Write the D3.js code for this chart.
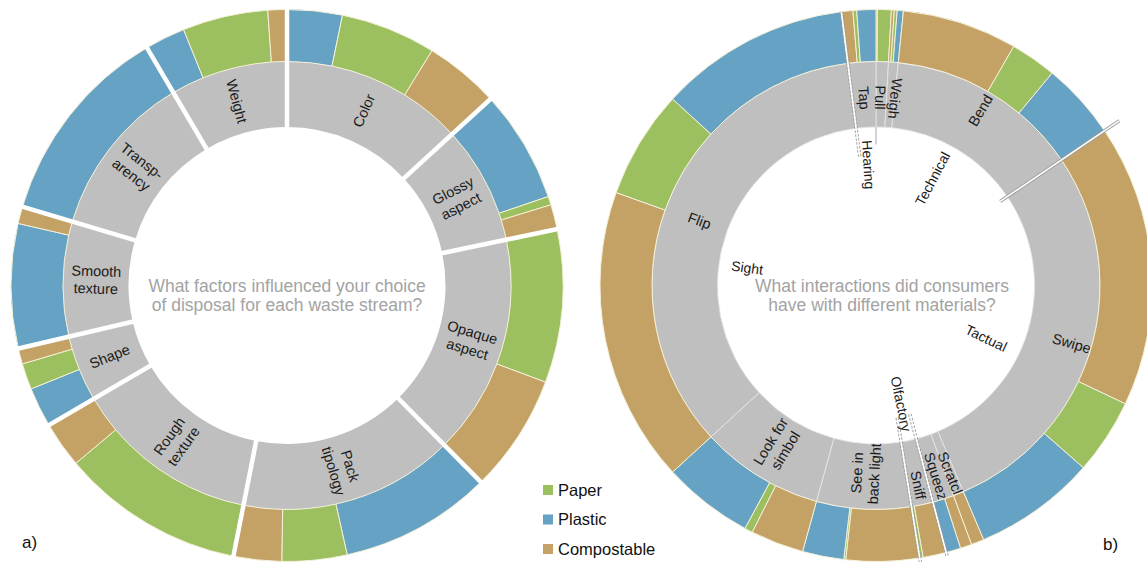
<!DOCTYPE html>
<html><head><meta charset="utf-8">
<script src="https://cdn.jsdelivr.net/npm/d3@7/dist/d3.min.js"></script>
<style>
html,body{margin:0;padding:0;background:#fff;}
svg{display:block;font-family:"Liberation Sans",Arial,Helvetica,sans-serif;}
</style></head><body>
<svg id="chart" width="1147" height="562"></svg>
<script>
// ---------- data: chart a) ----------
const factors = ["Color","Glossy aspect","Opaque aspect","Pack tipology","Rough texture","Shape","Smooth texture","Transparency","Weight"];
const factorLabels = ["Color","Glossy\naspect","Opaque\naspect","Pack\ntipology","Rough\ntexture","Shape","Smooth\ntexture","Transp-\narency","Weight"];
const factorPlastic = [11.6, 23.7, 0, 32.0, 0, 8.4, 26.2, 42.9, 8.5];
const factorPaper   = [20.1, 1.8, 32.3, 13.7, 38.7, 5.5, 0, 0, 18.0];
const factorCompost = [15.8, 5.2, 24.9, 10.1, 9.7, 3.3, 3.6, 0, 4.0];
const questionA = ["What factors influenced your choice","of disposal for each waste stream?"];

// ---------- data: chart b) ----------
const senses = ["Technical","Tactual","Olfactory","Sight","Hearing"];
const interactions = ["Pull","Weigh","Bend","Swipe","Scratch","Squeeze","Sniff","See in back light","Look for simbol","Flip","Tap"];
const interactionLabels = ["Pull","Weigh","Bend","Swipe","Scratch","Squeeze","Sniff","See in\nback light","Look for\nsimbol","Flip","Tap"];
const interactionSense = ["Technical","Technical","Technical","Tactual","Tactual","Tactual","Olfactory","Sight","Sight","Sight","Hearing"];
const interCompost = [0.3, 0.6, 24.2, 59.4, 2.7, 2.4, 4.9, 15.4, 11.2, 62.1, 2.4];
const interPaper   = [2.9, 0.6, 9.7, 15.9, 0, 0, 0.7, 0.4, 1.7, 22.8, 0.8];
const interPlastic = [0, 1.3, 16.2, 25.7, 0, 3.1, 0, 8.7, 19.1, 40.2, 4.0];
const questionB = ["What interactions did consumers","have with different materials?"];

const materials = ["Paper","Plastic","Compostable"];
const panelTags = ["a)","b)"];

// ---------- drawing ----------
const svg = d3.select("#chart");
const color = d3.scaleOrdinal().domain(materials).range(["#9cbf60","#65a2c4","#c4a266"]);
const GRAY = "#bfbfbf", CREAM = "#f4f0d8";
const R0 = 158.5, R1 = 224, R2 = 276;
const arcIn = d3.arc().innerRadius(R0).outerRadius(R1);
const arcOut = d3.arc().innerRadius(R1).outerRadius(R2);
const pie = d3.pie().sort(null).value(d => d.v).startAngle(0).endAngle(2 * Math.PI);
const deg = r => r * 180 / Math.PI;
const pt = (a, r) => [r * Math.sin(a), -r * Math.cos(a)];

function radialText(g, aDeg, r, lines, size, shift) {
  const flip = aDeg >= 180 || aDeg < 8;
  const t = g.append("text")
    .attr("transform", `rotate(${aDeg - 90}) translate(${r},0) rotate(${flip ? 180 : 0})`)
    .attr("text-anchor", "middle").attr("font-size", size).attr("fill", "#1a1a1a");
  const lh = size * 1.2;
  lines.forEach((ln, i) => {
    t.append("tspan").attr("x", shift || 0).attr("y", (i - (lines.length - 1) / 2) * lh)
      .attr("dy", "0.35em").text(ln);
  });
}
function centerText(g, lines, x) {
  g.append("g").selectAll("text").data(lines).join("text")
    .attr("x", x).attr("y", (d, i) => 6.5 + i * 19)
    .attr("text-anchor", "middle").attr("font-size", 17.5).attr("fill", "#a3a3a3").text(d => d);
}

// ===== chart a) =====
const gA = svg.append("g").attr("transform", "translate(287,285.5)");
const totA = factors.map((f, i) => ({ name: f, label: factorLabels[i], v: factorPlastic[i] + factorPaper[i] + factorCompost[i] }));
const inA = pie(totA);
const outA = pie(factors.flatMap((f, i) =>
  [["Plastic", factorPlastic[i]], ["Paper", factorPaper[i]], ["Compostable", factorCompost[i]]]
    .filter(d => d[1] > 0).map(([m, v]) => ({ f, m, v }))));
gA.append("g").selectAll("path").data(inA).join("path").attr("d", arcIn).attr("fill", GRAY);
gA.append("g").selectAll("path").data(outA).join("path").attr("d", arcOut)
  .attr("fill", d => color(d.data.m)).attr("stroke", CREAM).attr("stroke-width", 1);
gA.append("g").selectAll("line").data(inA).join("line")
  .attr("x1", d => pt(d.startAngle, R0 - 3)[0]).attr("y1", d => pt(d.startAngle, R0 - 3)[1])
  .attr("x2", d => pt(d.startAngle, R2 + 3)[0]).attr("y2", d => pt(d.startAngle, R2 + 3)[1])
  .attr("stroke", "#fff").attr("stroke-width", 4.5);
const labA = gA.append("g");
inA.forEach(d => radialText(labA, deg((d.startAngle + d.endAngle) / 2), 191, d.data.label.split("\n"), 14.5, 0));
centerText(gA, questionA, 0);

// ===== chart b) =====
const gB = svg.append("g").attr("transform", "translate(876,285.5)");
const leafB = interactions.map((n, i) => ({ name: n, label: interactionLabels[i], sense: interactionSense[i],
  v: interCompost[i] + interPaper[i] + interPlastic[i] }));
const inB = pie(leafB);
const senseArcs = pie(senses.map(s => ({ name: s, v: d3.sum(leafB.filter(d => d.sense === s), d => d.v) })));
const outB = pie(interactions.flatMap((n, i) =>
  [["Compostable", interCompost[i]], ["Paper", interPaper[i]], ["Plastic", interPlastic[i]]]
    .filter(d => d[1] > 0).map(([m, v]) => ({ n, m, v }))));
gB.append("g").selectAll("path").data(inB).join("path").attr("d", arcIn)
  .attr("fill", GRAY).attr("stroke", "#e4e4e4").attr("stroke-width", 0.9);
gB.append("g").selectAll("path").data(outB).join("path").attr("d", arcOut)
  .attr("fill", d => color(d.data.m)).attr("stroke", CREAM).attr("stroke-width", 1);

// sense boundaries
const boundaryStyle = [
  { kind: "tick", r: [141, R0] },
  { kind: "solid", r: [150, 294] },
  { kind: "dash", r: [133, 281] },
  { kind: "dash", r: [134, 280] },
  { kind: "dash", r: [130, 276] }
];
const gBd = gB.append("g");
senseArcs.forEach((d, i) => {
  const st = boundaryStyle[i];
  const p1 = pt(d.startAngle, st.r[0]), p2 = pt(d.startAngle, st.r[1]);
  if (st.kind === "tick") {
    gBd.append("line").attr("x1", p1[0]).attr("y1", p1[1]).attr("x2", p2[0]).attr("y2", p2[1])
      .attr("stroke", "#a8a8a8").attr("stroke-width", 1);
  } else {
    gBd.append("line").attr("x1", p1[0]).attr("y1", p1[1]).attr("x2", p2[0]).attr("y2", p2[1])
      .attr("stroke", "#9a9a9a").attr("stroke-width", 3.4)
      .attr("stroke-dasharray", st.kind === "dash" ? "2.5,1.5" : null);
    gBd.append("line").attr("x1", p1[0]).attr("y1", p1[1]).attr("x2", p2[0]).attr("y2", p2[1])
      .attr("stroke", "#fff").attr("stroke-width", 1.6);
  }
});

// ring labels (clipped to gray ring)
gB.append("clipPath").attr("id", "ringClipB").append("path")
  .attr("d", d3.arc().innerRadius(R0).outerRadius(R1 - 1)({ startAngle: 0, endAngle: 2 * Math.PI }));
const labB = gB.append("g").append("g").attr("clip-path", "url(#ringClipB)");
const ringNudge = { Weigh: 1.4, Pull: -0.3 };
inB.forEach(d => radialText(labB, deg((d.startAngle + d.endAngle) / 2) + (ringNudge[d.data.name] || 0), 196,
  d.data.label.split("\n"), 14.5, 8));

// sense labels in the hole
const senseNudge = { Sight: [16, 130], Tactual: [5, 122] };
const labS = gB.append("g");
senseArcs.forEach(d => {
  const nd = senseNudge[d.data.name] || [0, 121];
  radialText(labS, deg((d.startAngle + d.endAngle) / 2) + nd[0], nd[1], [d.data.name], 14, 0);
});
centerText(gB, questionB, 6);

// ===== legend =====
const leg = svg.append("g").attr("transform", "translate(543,485)");
const li = leg.selectAll("g").data(materials).join("g").attr("transform", (d, i) => `translate(0,${i * 29.5})`);
li.append("rect").attr("width", 10).attr("height", 10).attr("fill", d => color(d));
li.append("text").attr("x", 15).attr("y", 10.5).attr("font-size", 16.5).attr("fill", "#111").text(d => d);

// ===== panel tags =====
svg.append("text").attr("x", 22).attr("y", 548).attr("font-size", 17).attr("fill", "#111").text(panelTags[0]);
svg.append("text").attr("x", 1103).attr("y", 550).attr("font-size", 17).attr("fill", "#111").text(panelTags[1]);
</script>
</body></html>
